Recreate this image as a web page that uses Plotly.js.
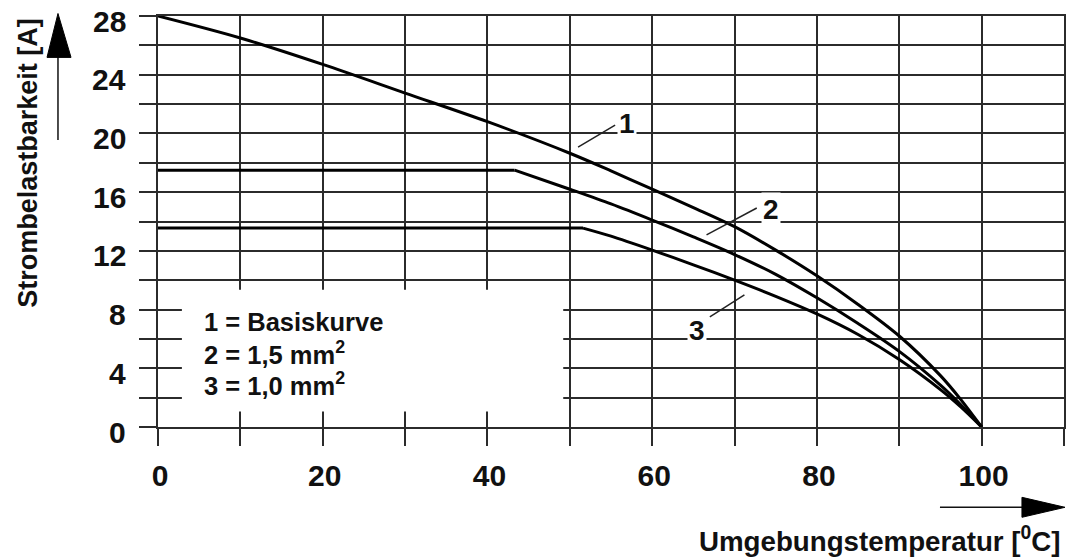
<!DOCTYPE html>
<html>
<head>
<meta charset="utf-8">
<script src="https://cdn.plot.ly/plotly-3.0.1.min.js"></script>
<style>html,body{margin:0;padding:0;background:#fff;}#chart{width:1069px;height:559px;}</style>
</head>
<body>
<div id="chart"></div>
<script>
// Data
const temp1 = [0, 10, 20, 30, 40, 50, 55, 60, 65, 70, 75, 80, 85, 90, 95, 97.5, 100];
const basiskurve = [28, 26.5, 24.7, 22.75, 20.8, 18.65, 17.45, 16.2, 14.95, 13.65, 12.05, 10.3, 8.35, 6.2, 3.5, 1.85, 0];
const temp2 = [0, 20, 43.3, 50, 55, 60, 65, 70, 75, 80, 85, 90, 95, 97.5, 100];
const mm15 = [17.5, 17.5, 17.5, 16.2, 15.2, 14.1, 12.95, 11.75, 10.4, 8.8, 7.05, 5.15, 2.85, 1.5, 0];
const temp3 = [0, 20, 40, 51.6, 55, 60, 65, 70, 75, 80, 85, 90, 95, 97.5, 100];
const mm10 = [13.55, 13.55, 13.55, 13.55, 13.0, 12.05, 11.05, 10.0, 8.9, 7.7, 6.3, 4.6, 2.55, 1.35, 0];
const knee2 = 2;   // index where curve 2 leaves its plateau
const knee3 = 3;   // index where curve 3 leaves its plateau

const yTickVals = [0,2,4,6,8,10,12,14,16,18,20,22,24,26,28];
const yLabelVals = [0, 4, 8, 12, 16, 20, 24, 28];
const xTickVals = [0,10,20,30,40,50,60,70,80,90,100,110];
const xTickText = ['0','','20','','40','','60','','80','','100',''];

const legendLines = ['1 = Basiskurve', '2 = 1,5 mm<sup>2</sup>', '3 = 1,0 mm<sup>2</sup>'];
const curveLabels = ['1', '2', '3'];

const FONT = 'Liberation Sans, Arial, sans-serif';
const GRID = '#2b2b2b';
const splineLine = {color: '#000', width: 3, shape: 'spline', smoothing: 0.9, simplify: false};
const flatLine = {color: '#000', width: 3, shape: 'linear', simplify: false};

const traces = [
  {x: temp1, y: basiskurve, mode: 'lines', line: splineLine, name: curveLabels[0]},
  {x: temp2.slice(0, knee2 + 1), y: mm15.slice(0, knee2 + 1), mode: 'lines', line: flatLine, name: curveLabels[1]},
  {x: temp2.slice(knee2), y: mm15.slice(knee2), mode: 'lines', line: splineLine, name: curveLabels[1]},
  {x: temp3.slice(0, knee3 + 1), y: mm10.slice(0, knee3 + 1), mode: 'lines', line: flatLine, name: curveLabels[2]},
  {x: temp3.slice(knee3), y: mm10.slice(knee3), mode: 'lines', line: splineLine, name: curveLabels[2]}
];

const bold = s => '<b>' + s + '</b>';

const annotations = [
  // axis titles
  {xref: 'paper', yref: 'paper', x: -0.1435, y: 0.643, textangle: -90, showarrow: false,
   text: bold('Strombelastbarkeit [A]'), font: {family: FONT, size: 27, color: '#111'},
   xanchor: 'center', yanchor: 'middle'},
  {xref: 'paper', yref: 'paper', x: 0.9985, y: -0.272, showarrow: false,
   text: bold('Umgebungstemperatur [<sup>0</sup>C]'), font: {family: FONT, size: 27.7, color: '#111'},
   xanchor: 'right', yanchor: 'middle'},
  // curve labels
  {x: 57.0, y: 20.7, text: bold(curveLabels[0]), showarrow: false, bgcolor: '#fff',
   font: {family: FONT, size: 28, color: '#111'}, xanchor: 'center', yanchor: 'middle'},
  {x: 74.4, y: 14.8, text: bold(curveLabels[1]), showarrow: false, bgcolor: '#fff',
   font: {family: FONT, size: 28, color: '#111'}, xanchor: 'center', yanchor: 'middle'},
  {x: 65.5, y: 6.56, text: bold(curveLabels[2]), showarrow: false, bgcolor: '#fff',
   font: {family: FONT, size: 28, color: '#111'}, xanchor: 'center', yanchor: 'middle'}
];
// y tick labels (placed on the y scale, nudged down like the reference)
yLabelVals.forEach(v => {
  annotations.push({xref: 'paper', yref: 'y', x: -0.0331, y: v, text: bold(String(v)), showarrow: false,
    font: {family: FONT, size: 30, color: '#111'}, xanchor: 'right', yanchor: 'middle', yshift: -5});
});
const legendY = [7.17, 5.07, 2.96];
legendLines.forEach((t, i) => {
  annotations.push({x: 5.3, y: legendY[i], text: bold(t), showarrow: false,
    font: {family: FONT, size: 25.5, color: '#111'}, xanchor: 'left', yanchor: 'middle'});
});

const shapes = [
  // blank area behind the key text
  {type: 'rect', xref: 'x', yref: 'y', x0: 2.9, x1: 49.2, y0: 1.05, y1: 9.35,
   fillcolor: '#fff', line: {width: 0}, layer: 'between'},
  // leader lines
  {type: 'line', x0: 51.0, y0: 19.07, x1: 55.5, y1: 20.57, line: {color: '#222', width: 1.5}},
  {type: 'line', x0: 66.6, y0: 13.09, x1: 72.7, y1: 14.92, line: {color: '#222', width: 1.5}},
  {type: 'line', x0: 67.0, y0: 7.51, x1: 71.2, y1: 9.0, line: {color: '#222', width: 1.5}},
  // y arrow
  {type: 'line', xref: 'paper', yref: 'paper', x0: -0.1104, x1: -0.1104, y0: 0.698, y1: 0.90,
   line: {color: '#111', width: 1.5}},
  {type: 'path', xref: 'paper', yref: 'paper',
   path: 'M -0.1225 0.8993 L -0.1104 1.0061 L -0.0960 0.8993 Z', fillcolor: '#000', line: {color: '#000', width: 1}},
  // x arrow
  {type: 'line', xref: 'paper', yref: 'paper', x0: 0.8631, x1: 0.954, y0: -0.1954, y1: -0.1954,
   line: {color: '#111', width: 1.5}},
  {type: 'path', xref: 'paper', yref: 'paper',
   path: 'M 0.9536 -0.1711 L 1.0011 -0.1954 L 0.9536 -0.2197 Z', fillcolor: '#000', line: {color: '#000', width: 1}}
];

const axisCommon = {
  showgrid: true, gridcolor: GRID, gridwidth: 2,
  showline: true, linecolor: GRID, linewidth: 2, mirror: true,
  zeroline: false, ticks: 'outside', ticklen: 17, tickwidth: 2, tickcolor: GRID,
  tickfont: {family: FONT, size: 30, color: '#111', weight: 'bold'},
  fixedrange: true
};

const layout = {
  width: 1069, height: 559,
  margin: {l: 158, r: 5, t: 15.5, b: 131.5},
  paper_bgcolor: '#fff', plot_bgcolor: '#fff',
  showlegend: false,
  xaxis: Object.assign({}, axisCommon, {range: [0, 110], tickmode: 'array', tickvals: xTickVals, ticktext: xTickText,
    ticklabelstandoff: 4, ticklabelshift: 2}),
  yaxis: Object.assign({}, axisCommon, {range: [0, 28], tickmode: 'array', tickvals: yTickVals,
    showticklabels: false}),
  annotations: annotations,
  shapes: shapes
};

Plotly.newPlot('chart', traces, layout, {displayModeBar: false, staticPlot: true});
</script>
</body>
</html>
